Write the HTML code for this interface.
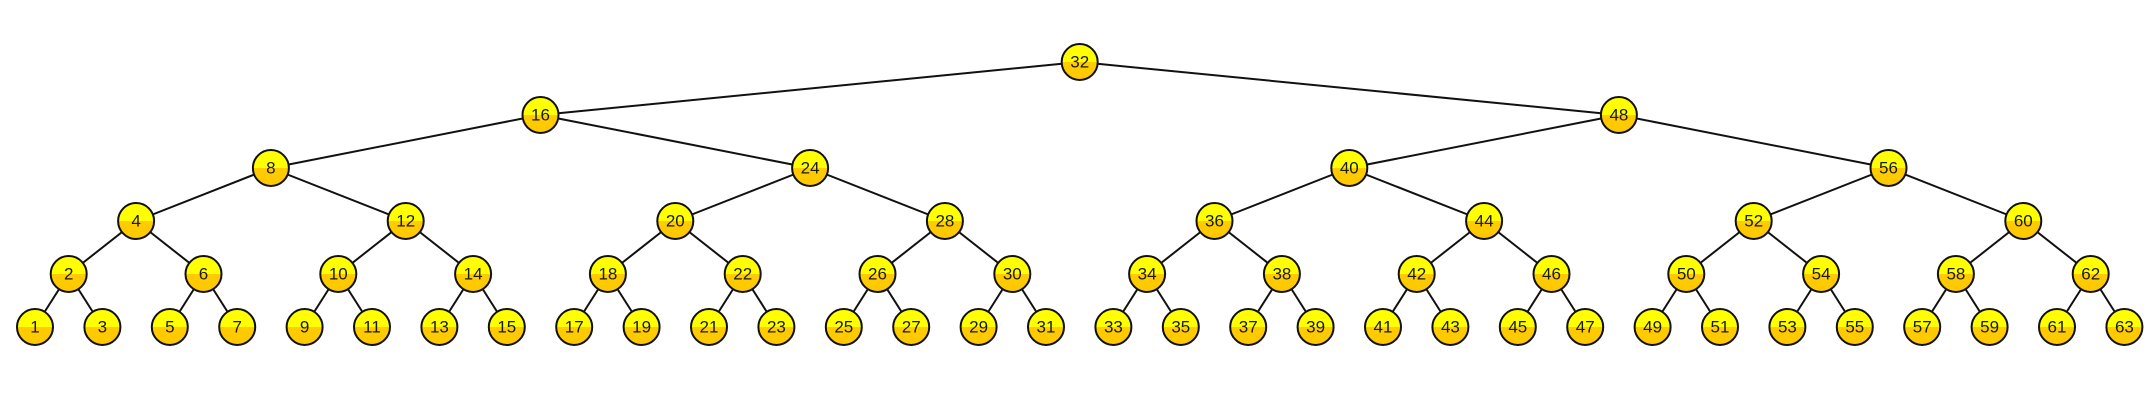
<!DOCTYPE html>
<html><head><meta charset="utf-8"><style>html,body{margin:0;padding:0;background:#fff}svg{display:block}text{font-family:"Liberation Sans",sans-serif;font-size:17px;fill:#1a1a1a;text-anchor:middle;dominant-baseline:central}</style></head><body>
<svg width="2155" height="403" viewBox="0 0 2155 403" xmlns="http://www.w3.org/2000/svg">
<defs>
<linearGradient id="g" x1="0" y1="0" x2="0" y2="1"><stop offset="0" stop-color="#ffff00"/><stop offset="0.5" stop-color="#ffff00"/><stop offset="0.5" stop-color="#ffcc00"/><stop offset="1" stop-color="#ffc800"/></linearGradient>
<circle id="c" r="18" fill="url(#g)" stroke="#111" stroke-width="2"/>
</defs>
<path fill="none" stroke="#111" stroke-width="2" d="
M1079.7 62L540.5 115M1079.7 62L1618.9 115
M540.5 115L270.9 168M540.5 115L810.1 168M1618.9 115L1349.3 168M1618.9 115L1888.5 168
M270.9 168L136.1 221M270.9 168L405.7 221M810.1 168L675.3 221M810.1 168L944.9 221M1349.3 168L1214.5 221M1349.3 168L1484.1 221M1888.5 168L1753.7 221M1888.5 168L2023.3 221
M136.1 221L68.7 274M136.1 221L203.5 274M405.7 221L338.3 274M405.7 221L473.1 274M675.3 221L607.9 274M675.3 221L742.7 274M944.9 221L877.5 274M944.9 221L1012.3 274M1214.5 221L1147.1 274M1214.5 221L1281.9 274M1484.1 221L1416.7 274M1484.1 221L1551.5 274M1753.7 221L1686.3 274M1753.7 221L1821.1 274M2023.3 221L1955.9 274M2023.3 221L2090.7 274
M68.7 274L35 327M68.7 274L102.4 327M203.5 274L169.8 327M203.5 274L237.2 327M338.3 274L304.6 327M338.3 274L372 327M473.1 274L439.4 327M473.1 274L506.8 327M607.9 274L574.2 327M607.9 274L641.6 327M742.7 274L709 327M742.7 274L776.4 327M877.5 274L843.8 327M877.5 274L911.2 327M1012.3 274L978.6 327M1012.3 274L1046 327M1147.1 274L1113.4 327M1147.1 274L1180.8 327M1281.9 274L1248.2 327M1281.9 274L1315.6 327M1416.7 274L1383 327M1416.7 274L1450.4 327M1551.5 274L1517.8 327M1551.5 274L1585.2 327M1686.3 274L1652.6 327M1686.3 274L1720 327M1821.1 274L1787.4 327M1821.1 274L1854.8 327M1955.9 274L1922.2 327M1955.9 274L1989.6 327M2090.7 274L2057 327M2090.7 274L2124.4 327"/>
<g transform="translate(1079.7,62)"><use href="#c"/><text>32</text></g>
<g transform="translate(540.5,115)"><use href="#c"/><text>16</text></g>
<g transform="translate(1618.9,115)"><use href="#c"/><text>48</text></g>
<g transform="translate(270.9,168)"><use href="#c"/><text>8</text></g>
<g transform="translate(810.1,168)"><use href="#c"/><text>24</text></g>
<g transform="translate(1349.3,168)"><use href="#c"/><text>40</text></g>
<g transform="translate(1888.5,168)"><use href="#c"/><text>56</text></g>
<g transform="translate(136.1,221)"><use href="#c"/><text>4</text></g>
<g transform="translate(405.7,221)"><use href="#c"/><text>12</text></g>
<g transform="translate(675.3,221)"><use href="#c"/><text>20</text></g>
<g transform="translate(944.9,221)"><use href="#c"/><text>28</text></g>
<g transform="translate(1214.5,221)"><use href="#c"/><text>36</text></g>
<g transform="translate(1484.1,221)"><use href="#c"/><text>44</text></g>
<g transform="translate(1753.7,221)"><use href="#c"/><text>52</text></g>
<g transform="translate(2023.3,221)"><use href="#c"/><text>60</text></g>
<g transform="translate(68.7,274)"><use href="#c"/><text>2</text></g>
<g transform="translate(203.5,274)"><use href="#c"/><text>6</text></g>
<g transform="translate(338.3,274)"><use href="#c"/><text>10</text></g>
<g transform="translate(473.1,274)"><use href="#c"/><text>14</text></g>
<g transform="translate(607.9,274)"><use href="#c"/><text>18</text></g>
<g transform="translate(742.7,274)"><use href="#c"/><text>22</text></g>
<g transform="translate(877.5,274)"><use href="#c"/><text>26</text></g>
<g transform="translate(1012.3,274)"><use href="#c"/><text>30</text></g>
<g transform="translate(1147.1,274)"><use href="#c"/><text>34</text></g>
<g transform="translate(1281.9,274)"><use href="#c"/><text>38</text></g>
<g transform="translate(1416.7,274)"><use href="#c"/><text>42</text></g>
<g transform="translate(1551.5,274)"><use href="#c"/><text>46</text></g>
<g transform="translate(1686.3,274)"><use href="#c"/><text>50</text></g>
<g transform="translate(1821.1,274)"><use href="#c"/><text>54</text></g>
<g transform="translate(1955.9,274)"><use href="#c"/><text>58</text></g>
<g transform="translate(2090.7,274)"><use href="#c"/><text>62</text></g>
<g transform="translate(35,327)"><use href="#c"/><text>1</text></g>
<g transform="translate(102.4,327)"><use href="#c"/><text>3</text></g>
<g transform="translate(169.8,327)"><use href="#c"/><text>5</text></g>
<g transform="translate(237.2,327)"><use href="#c"/><text>7</text></g>
<g transform="translate(304.6,327)"><use href="#c"/><text>9</text></g>
<g transform="translate(372,327)"><use href="#c"/><text>11</text></g>
<g transform="translate(439.4,327)"><use href="#c"/><text>13</text></g>
<g transform="translate(506.8,327)"><use href="#c"/><text>15</text></g>
<g transform="translate(574.2,327)"><use href="#c"/><text>17</text></g>
<g transform="translate(641.6,327)"><use href="#c"/><text>19</text></g>
<g transform="translate(709,327)"><use href="#c"/><text>21</text></g>
<g transform="translate(776.4,327)"><use href="#c"/><text>23</text></g>
<g transform="translate(843.8,327)"><use href="#c"/><text>25</text></g>
<g transform="translate(911.2,327)"><use href="#c"/><text>27</text></g>
<g transform="translate(978.6,327)"><use href="#c"/><text>29</text></g>
<g transform="translate(1046,327)"><use href="#c"/><text>31</text></g>
<g transform="translate(1113.4,327)"><use href="#c"/><text>33</text></g>
<g transform="translate(1180.8,327)"><use href="#c"/><text>35</text></g>
<g transform="translate(1248.2,327)"><use href="#c"/><text>37</text></g>
<g transform="translate(1315.6,327)"><use href="#c"/><text>39</text></g>
<g transform="translate(1383,327)"><use href="#c"/><text>41</text></g>
<g transform="translate(1450.4,327)"><use href="#c"/><text>43</text></g>
<g transform="translate(1517.8,327)"><use href="#c"/><text>45</text></g>
<g transform="translate(1585.2,327)"><use href="#c"/><text>47</text></g>
<g transform="translate(1652.6,327)"><use href="#c"/><text>49</text></g>
<g transform="translate(1720,327)"><use href="#c"/><text>51</text></g>
<g transform="translate(1787.4,327)"><use href="#c"/><text>53</text></g>
<g transform="translate(1854.8,327)"><use href="#c"/><text>55</text></g>
<g transform="translate(1922.2,327)"><use href="#c"/><text>57</text></g>
<g transform="translate(1989.6,327)"><use href="#c"/><text>59</text></g>
<g transform="translate(2057,327)"><use href="#c"/><text>61</text></g>
<g transform="translate(2124.4,327)"><use href="#c"/><text>63</text></g>
</svg>
</body></html>
